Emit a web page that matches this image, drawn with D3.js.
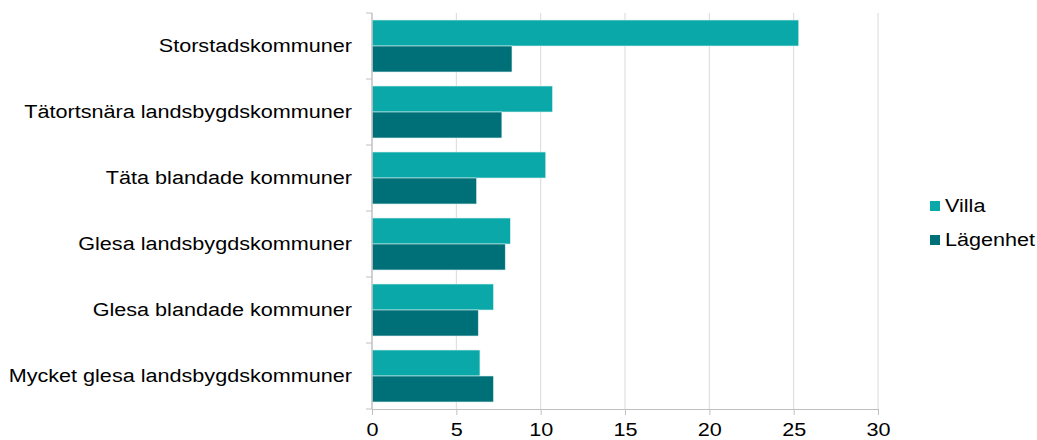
<!DOCTYPE html>
<html>
<head>
<meta charset="utf-8">
<script src="https://cdn.jsdelivr.net/npm/d3@7"></script>
<style>
  body { margin: 0; background: #fff; }
  svg { display: block; font-family: "Liberation Sans", Arial, sans-serif; }
</style>
</head>
<body>
<svg width="1037" height="440"></svg>
<script>
const categories = [
  'Storstadskommuner',
  'Tätortsnära landsbygdskommuner',
  'Täta blandade kommuner',
  'Glesa landsbygdskommuner',
  'Glesa blandade kommuner',
  'Mycket glesa landsbygdskommuner'
];
const seriesNames = ['Villa', 'Lägenhet'];
const villa = [25.3, 10.7, 10.3, 8.2, 7.2, 6.4];
const lagenhet = [8.3, 7.7, 6.2, 7.9, 6.3, 7.2];
const xTicks = [0, 5, 10, 15, 20, 25, 30];

const colors = { 'Villa': '#0aa8a8', 'Lägenhet': '#007078' };

// the original text is drawn a bit wide
const stretch = (sel, f) => sel.each(function () {
  const w = this.getComputedTextLength();
  d3.select(this).attr('textLength', w * f).attr('lengthAdjust', 'spacingAndGlyphs');
});

const svg = d3.select('svg');

const xScale = d3.scaleLinear().domain([0, 30]).range([372, 878]);
const yScale = d3.scaleBand().domain(categories).range([13, 409]);
const inner = d3.scaleBand().domain(seriesNames).range([0, yScale.bandwidth()]).paddingOuter(0.27);

// gridlines
svg.append('g')
  .selectAll('line')
  .data(xTicks.slice(1))
  .enter()
  .append('line')
    .attr('x1', d => xScale(d))
    .attr('x2', d => xScale(d))
    .attr('y1', 13)
    .attr('y2', 409)
    .style('stroke', '#d9d9d9')
    .style('stroke-width', 1);

const rows = categories.map((c, i) => ({ cat: c, values: [villa[i], lagenhet[i]] }));

svg.append('g')
  .selectAll('g')
  .data(rows)
  .enter()
  .append('g')
    .attr('transform', d => `translate(0, ${yScale(d.cat)})`)
  .selectAll('rect')
  .data(d => d.values.map((v, j) => ({ name: seriesNames[j], value: v })))
  .enter()
  .append('rect')
    .attr('x', xScale(0))
    .attr('y', d => inner(d.name))
    .attr('width', d => xScale(d.value) - xScale(0))
    .attr('height', inner.bandwidth())
    .style('fill', d => colors[d.name])
    .style('stroke', '#d8eeee')
    .style('stroke-width', 0.6);

// x axis
const xAxis = d3.axisBottom(xScale).tickValues(xTicks).tickSize(6).tickPadding(8);
const gx = svg.append('g')
  .attr('transform', 'translate(0, 409)')
  .call(xAxis);
gx.select('.domain').style('stroke', '#c0c0c0').attr('d', 'M372,0.5H878');
gx.selectAll('.tick line').style('stroke', '#c0c0c0');
gx.selectAll('.tick text')
  .style('font-size', '18px')
  .style('fill', '#000')
  .attr('y', 14)
  .call(stretch, 1.2);

// y axis
const yAxis = d3.axisLeft(yScale).tickSize(0).tickPadding(20);
const gy = svg.append('g')
  .attr('transform', 'translate(372, 0)')
  .call(yAxis);
gy.select('.domain').style('stroke', '#c0c0c0').style('stroke-width', 1.5).attr('d', 'M0,13V409');
gy.selectAll('.tick text')
  .style('font-size', '18px')
  .style('fill', '#000')
  .call(stretch, 1.2);

// category separators on y axis
svg.append('g')
  .selectAll('line')
  .data(categories.concat(['end']))
  .enter()
  .append('line')
    .attr('x1', 366)
    .attr('x2', 372)
    .attr('y1', (d, i) => i < categories.length ? yScale(d) : 409)
    .attr('y2', (d, i) => i < categories.length ? yScale(d) : 409)
    .style('stroke', '#c0c0c0');

// legend
const legend = svg.append('g')
  .selectAll('g')
  .data(seriesNames)
  .enter()
  .append('g')
    .attr('transform', (d, i) => `translate(930, ${201 + i * 34})`);

legend.append('rect')
  .attr('width', 10)
  .attr('height', 10)
  .style('fill', d => colors[d]);

legend.append('text')
  .attr('x', 15)
  .attr('y', 11)
  .text(d => d)
  .style('font-size', '18px')
  .style('fill', '#000')
  .call(stretch, 1.2);
</script>
</body>
</html>
